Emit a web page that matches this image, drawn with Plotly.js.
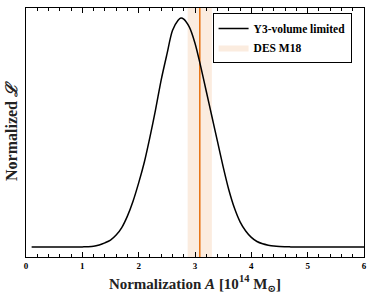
<!DOCTYPE html>
<html>
<head>
<meta charset="utf-8">
<script src="https://cdn.plot.ly/plotly-3.0.1.min.js"></script>
<style>html,body{margin:0;padding:0;background:#fff;}#chart{width:374px;height:295px;}</style>
</head>
<body>
<div id="chart"></div>
<script>
const normA = [0.1,0.2,0.3,0.4,0.5,0.6,0.7,0.8,0.9,1.0,1.1,1.2,1.3,1.4,1.5,1.6,1.7,1.8,1.9,2.0,2.1,2.2,2.3,2.4,2.5,2.6,2.7,2.75,2.8,2.9,3.0,3.1,3.2,3.3,3.4,3.5,3.6,3.7,3.8,3.9,4.0,4.1,4.2,4.3,4.4,4.5,4.6,4.7,4.8,5.0,5.2,5.4,5.6,5.8,6.0];
const likelihood = [0,0,0,0,0,0,0,0,0,0.0005,0.001,0.003,0.009,0.018,0.030,0.052,0.085,0.135,0.200,0.280,0.370,0.480,0.600,0.730,0.840,0.945,0.990,1.0,0.995,0.960,0.890,0.790,0.680,0.570,0.460,0.350,0.250,0.170,0.110,0.070,0.042,0.024,0.014,0.008,0.004,0.002,0.001,0.0005,0,0,0,0,0,0,0];
const desLow = 2.87, desHigh = 3.30, desCenter = 3.085;
const seriesNames = ["Y3-volume limited", "DES M18"];
const xTickVals = [0,1,2,3,4,5,6];

const serif = "Liberation Serif, DejaVu Serif, serif";
const traces = [
  {x:[desLow,desHigh,desHigh,desLow,desLow], y:[-1,-1,2,2,-1], type:'scatter', mode:'lines', fill:'toself',
   fillcolor:'rgba(250,228,210,0.7)', line:{width:0,color:'rgba(0,0,0,0)'}, name:seriesNames[1], legendrank:2, hoverinfo:'skip'},
  {x:[desCenter,desCenter], y:[-1,2], type:'scatter', mode:'lines', line:{color:'#e8700e',width:1.5}, showlegend:false},
  {x:normA, y:likelihood, type:'scatter', mode:'lines', line:{color:'#000',width:1.5, shape:'spline', smoothing:0.8}, name:seriesNames[0], legendrank:1}
];
const layout = {
  width:374, height:295,
  margin:{l:26, r:10, t:8, b:38, autoexpand:false},
  paper_bgcolor:'#fff', plot_bgcolor:'#fff',
  showlegend:true,
  legend:{x:0.552, y:0.98, xanchor:'left', yanchor:'top', bgcolor:'#fff', bordercolor:'#000', borderwidth:1,
    font:{family:serif, size:11.5, color:'#000', weight:'bold'}, tracegroupgap:0, itemwidth:30},
  xaxis:{range:[0,6], tickvals:xTickVals, ticktext:xTickVals.map(String), ticks:'inside', ticklen:5, tickcolor:'#000',
    minor:{dtick:0.2, ticks:'inside', ticklen:3, tickcolor:'#000'},
    showline:true, linecolor:'#000', linewidth:1, mirror:'ticks', showgrid:false, zeroline:false,
    tickfont:{family:serif, size:9, color:'#000', weight:'bold'},
    title:{text:'Normalization <i>A</i> [10<sup>14</sup> M<sub>⊙</sub>]', font:{family:serif, size:15, color:'#222', weight:'bold'}, standoff:8}},
  yaxis:{range:[-0.0437,1.0437], showticklabels:false, ticks:'', showline:true, linecolor:'#000', linewidth:1, mirror:true,
    showgrid:false, zeroline:false,
    title:{text:'Normalized <i>ℒ</i>', font:{family:serif, size:16, color:'#222', weight:'bold'}, standoff:3}}
};
Plotly.newPlot('chart', traces, layout, {staticPlot:true, displayModeBar:false});
</script>
</body>
</html>
